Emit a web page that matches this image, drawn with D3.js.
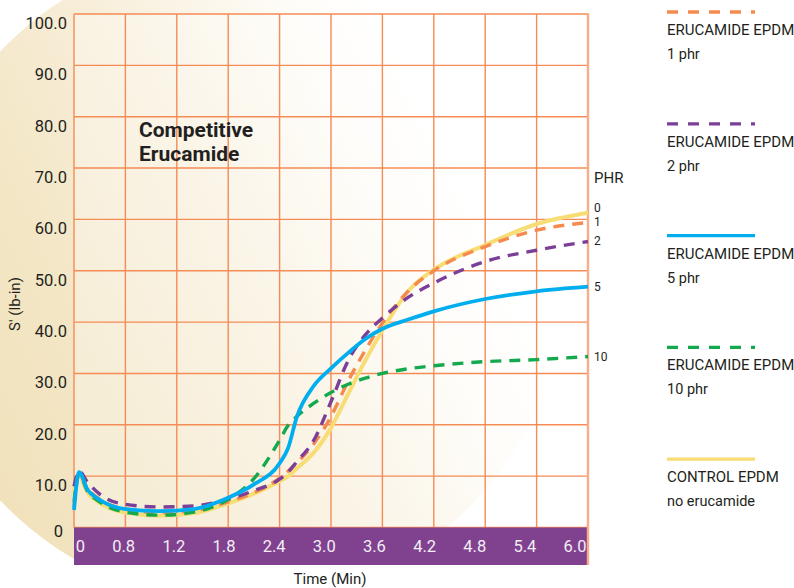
<!DOCTYPE html>
<html>
<head>
<meta charset="utf-8">
<script src="https://cdn.jsdelivr.net/npm/d3@7"></script>
<style>
body { margin: 0; background: #fff; }
text { font-family: Roboto, "Liberation Sans", sans-serif; fill: #231f20; }
</style>
</head>
<body>
<script>
//Cure time (min) shared by every curve
const times = [0, 0.06, 0.15, 0.3, 0.6, 1.0, 1.4, 1.8, 2.1, 2.4, 2.5, 2.6, 2.8, 3.0, 3.2, 3.4, 3.6, 3.9, 4.2, 4.8, 5.4, 6.0];

//S' torque (lb-in)
const control = [7.0, 10.0, 7.0, 4.8, 2.9, 2.3, 2.8, 4.7, 6.6, 9.0, 10.0, 11.5, 14.6, 19.4, 26.0, 32.5, 38.4, 46.0, 50.2, 55.0, 59.1, 61.3];
const phr1 = [4.0, 10.5, 7.8, 5.5, 3.6, 2.9, 3.3, 5.0, 6.8, 9.6, 11.0, 12.6, 16.3, 21.6, 28.5, 34.5, 39.8, 46.0, 50.0, 54.7, 57.9, 59.4];
const phr2 = [8.0, 11.0, 9.0, 6.5, 4.5, 4.0, 4.2, 5.5, 7.2, 9.4, 10.8, 12.8, 17.0, 24.5, 32.5, 37.5, 40.8, 44.8, 47.6, 51.8, 54.0, 55.7];
const phr5 = [3.4, 10.8, 7.6, 5.4, 3.6, 3.2, 3.6, 5.8, 8.4, 12.5, 15.5, 21.5, 27.6, 31.0, 34.0, 36.7, 38.7, 40.5, 42.1, 44.5, 46.0, 46.9];
const phr10 = [5.0, 10.5, 7.3, 5.0, 3.0, 2.4, 3.0, 5.5, 9.5, 17.0, 19.9, 21.6, 24.2, 26.3, 27.9, 29.1, 30.0, 30.9, 31.5, 32.3, 32.7, 33.3];

//Legend and label texts
const legendTitles = ['ERUCAMIDE EPDM', 'ERUCAMIDE EPDM', 'ERUCAMIDE EPDM', 'ERUCAMIDE EPDM', 'CONTROL EPDM'];
const legendSubs = ['1 phr', '2 phr', '5 phr', '10 phr', 'no erucamide'];
const phrLabels = ['1', '2', '5', '10', '0'];

//Tick labels
const xTickLabels = ['0', '0.8', '1.2', '1.8', '2.4', '3.0', '3.6', '4.2', '4.8', '5.4', '6.0'];
const yTicks = [0, 10, 20, 30, 40, 50, 60, 70, 80, 90, 100];

//Setup chart
const width = 794;
const height = 588;
const margin = {top: 14, right: 206, bottom: 60.5, left: 74};
const bandBottom = 565;

const svg = d3.select('body').append('svg')
    .attr('width', width)
    .attr('height', height);

//Scales
const x = d3.scaleLinear()
    .domain([0, 6])
    .range([margin.left, width - margin.right]);

const y = d3.scaleLinear()
    .domain([0, 100])
    .range([height - margin.bottom, margin.top]);

//Series with their styles (legend order)
const series = [
    {values: phr1, colour: '#f58a4e', dash: '11,8', w: 3.4},
    {values: phr2, colour: '#7b3f97', dash: '11,8', w: 3.4},
    {values: phr5, colour: '#00aeef', dash: null, w: 3.8},
    {values: phr10, colour: '#14a94f', dash: '11,8', w: 3.4},
    {values: control, colour: '#f8dc74', dash: null, w: 4}
];
series.forEach((s, i) => {
    s.title = legendTitles[i];
    s.sub = legendSubs[i];
    s.phr = phrLabels[i];
    s.points = times.map((t, j) => [t, s.values[j]]);
});

//Background glow: cream disc fading to white towards the right
const defs = svg.append('defs');
const glow = defs.append('linearGradient')
    .attr('id', 'glow')
    .attr('gradientUnits', 'userSpaceOnUse')
    .attr('x1', -40).attr('y1', 420)
    .attr('x2', 460).attr('y2', 180);
[[0, '#f1e2bc'], [0.25, '#f3e6c5'], [0.55, '#f8efdb'], [0.85, '#fefcf7'], [1, '#ffffff']]
    .forEach(s => glow.append('stop').attr('offset', s[0]).attr('stop-color', s[1]));

defs.append('clipPath')
    .attr('id', 'glowClip')
    .append('rect')
    .attr('width', width)
    .attr('height', bandBottom);

svg.append('circle')
    .attr('cx', 238).attr('cy', 276).attr('r', 327)
    .attr('fill', 'url(#glow)')
    .attr('clip-path', 'url(#glowClip)');

//Plot area wash
svg.append('rect')
    .attr('x', x(0))
    .attr('y', y(100))
    .attr('width', x(6) - x(0))
    .attr('height', y(0) - y(100))
    .style('fill', '#ffffff')
    .style('opacity', 0.3);

//Grid
const grid = svg.append('g').attr('class', 'grid');

grid.selectAll('line.v')
    .data(d3.range(0, 10).map(i => i * 0.6))
    .enter()
    .append('line')
    .attr('x1', d => x(d)).attr('x2', d => x(d))
    .attr('y1', y(100)).attr('y2', y(0))
    .style('stroke', '#f58b55')
    .style('stroke-width', 1.4);

grid.selectAll('line.h')
    .data(yTicks)
    .enter()
    .append('line')
    .attr('x1', x(0)).attr('x2', x(6))
    .attr('y1', d => y(d)).attr('y2', d => y(d))
    .style('stroke', '#f58b55')
    .style('stroke-width', 1.4);

//Purple time band
svg.append('rect')
    .attr('x', x(0))
    .attr('y', y(0))
    .attr('width', x(6) - x(0))
    .attr('height', bandBottom - y(0))
    .style('fill', '#80428f');

//Right frame edge
svg.append('line')
    .attr('x1', x(6)).attr('x2', x(6))
    .attr('y1', y(100) - 1).attr('y2', bandBottom)
    .style('stroke', '#f8ad88')
    .style('stroke-width', 2.4);

//X tick labels inside band
const xLabel = d3.scalePoint()
    .domain(xTickLabels)
    .range([85, x(6) - 1.5]);

svg.selectAll('text.xTick')
    .data(xTickLabels)
    .enter()
    .append('text')
    .attr('class', 'xTick')
    .attr('x', d => xLabel(d))
    .attr('y', 552)
    .style('text-anchor', 'end')
    .style('font-size', '16.5px')
    .style('fill', '#f3edf5')
    .text(d => d);

//Y tick labels
svg.selectAll('text.yTick')
    .data(yTicks)
    .enter()
    .append('text')
    .attr('class', 'yTick')
    .attr('x', d => d == 0 ? 63 : 67)
    .attr('y', d => y(d) + (d == 0 ? 9.5 : 15))
    .style('text-anchor', 'end')
    .style('font-size', '16.5px')
    .text(d => d == 0 ? '0' : d3.format('.1f')(d));

//Axis titles
svg.append('text')
    .attr('transform', 'translate(20, 304) rotate(-90)')
    .style('text-anchor', 'middle')
    .style('font-size', '15px')
    .text("S' (lb-in)");

svg.append('text')
    .attr('x', 330)
    .attr('y', 584)
    .style('text-anchor', 'middle')
    .style('font-size', '15px')
    .text('Time (Min)');

//Chart title, two lines
svg.selectAll('text.title')
    .data(['Competitive', 'Erucamide'])
    .enter()
    .append('text')
    .attr('class', 'title')
    .attr('x', 139)
    .attr('y', (d, i) => 137 + i * 24)
    .style('font-size', '21px')
    .style('font-weight', 'bold')
    .text(d => d);

//Curves
const line = d3.line()
    .x(d => x(d[0]))
    .y(d => y(d[1]))
    .curve(d3.curveMonotoneX);

const drawOrder = [4, 0, 1, 3, 2];
svg.selectAll('path.curve')
    .data(drawOrder.map(i => series[i]))
    .enter()
    .append('path')
    .attr('class', 'curve')
    .attr('d', d => line(d.points))
    .style('fill', 'none')
    .style('stroke', d => d.colour)
    .style('stroke-width', d => d.w)
    .style('stroke-dasharray', d => d.dash)
    .style('stroke-linejoin', 'round');

//PHR end labels, nudged apart from the bottom up
svg.append('text')
    .attr('x', 594)
    .attr('y', 183)
    .style('font-size', '15px')
    .text('PHR');

const ends = series.map(s => ({label: s.phr, pos: y(s.values[s.values.length - 1]) + 4}))
    .sort((a, b) => b.pos - a.pos);
ends.forEach((d, i) => {
    if (i > 0 && ends[i - 1].pos - d.pos < 14) d.pos = ends[i - 1].pos - 14;
});

svg.selectAll('text.phr')
    .data(ends)
    .enter()
    .append('text')
    .attr('class', 'phr')
    .attr('x', 594)
    .attr('y', d => d.pos)
    .style('font-size', '12px')
    .text(d => d.label);

//Legend
const legend = svg.selectAll('g.legend')
    .data(series)
    .enter()
    .append('g')
    .attr('class', 'legend')
    .attr('transform', (d, i) => `translate(667, ${12 + i * 111.8})`);

legend.append('line')
    .attr('x1', 0).attr('x2', 88)
    .attr('y1', 0).attr('y2', 0)
    .style('stroke', d => d.colour)
    .style('stroke-width', 3.3)
    .style('stroke-dasharray', d => d.dash ? '11,10' : null);

legend.append('text')
    .attr('y', 23)
    .style('font-size', '15px')
    .text(d => d.title);

legend.append('text')
    .attr('y', 47)
    .style('font-size', '14.5px')
    .text(d => d.sub);
</script>
</body>
</html>
